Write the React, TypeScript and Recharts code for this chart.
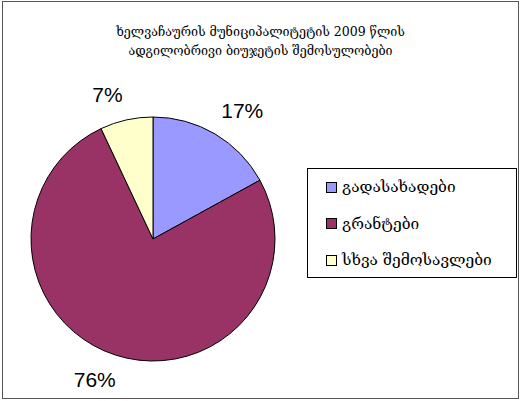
import { PieChart, Pie, Cell, Legend } from "recharts";

const categories = ["გადასახადები", "გრანტები", "სხვა შემოსავლები"];
const shares = [17, 76, 7];
const colors = ["#9999FF", "#993366", "#FFFFCC"];
const titleLines = [
  "ხელვაჩაურის მუნიციპალიტეტის 2009 წლის",
  "ადგილობრივი ბიუჯეტის შემოსულობები",
];

const data = categories.map((name, i) => ({ name, value: shares[i] }));

const RADIAN = Math.PI / 180;

function renderLabel(props: any) {
  const { cx, cy, midAngle, outerRadius, value } = props;
  const r = outerRadius + 18;
  const cos = Math.cos(-midAngle * RADIAN);
  const sin = Math.sin(-midAngle * RADIAN);
  // push the label box outward so its nearest corner sits on the ring
  const x = cx + r * cos + (cos >= 0 ? 18 : -15);
  const y = cy + r * sin + (sin >= 0 ? 7 : -8);
  return (
    <text
      x={x}
      y={y}
      textAnchor="middle"
      dominantBaseline="central"
      fontFamily="'Liberation Sans', Arial, sans-serif"
      fontSize={21}
      fill="#000"
    >
      {value}%
    </text>
  );
}

function LegendBox() {
  return (
    <div
      style={{
        width: 210,
        height: 110,
        border: "1px solid #000",
        background: "#fff",
        boxSizing: "border-box",
        paddingTop: 0,
      }}
    >
      {data.map((d, i) => (
        <div
          key={d.name}
          style={{
            display: "flex",
            alignItems: "center",
            height: 36.5,
            paddingLeft: 18,
            fontFamily: "'DejaVu Serif', serif",
            fontSize: 15.5,
            color: "#000",
          }}
        >
          <span
            style={{
              width: 9,
              height: 9,
              border: "1px solid #000",
              background: colors[i],
              marginRight: 5,
              display: "inline-block",
            }}
          />
          {d.name}
        </div>
      ))}
    </div>
  );
}

export default function App() {
  return (
    <div
      style={{
        position: "absolute",
        left: 0,
        top: 0,
        width: 521,
        height: 401,
        background: "#fff",
      }}
    >
      <div
        style={{
          position: "absolute",
          left: 2,
          top: 1,
          width: 517,
          height: 398,
          border: "1px solid #555",
          boxSizing: "border-box",
        }}
      />
      <div
        style={{
          position: "absolute",
          left: 0,
          top: 22,
          width: 521,
          textAlign: "center",
          fontFamily: "'DejaVu Serif', serif",
          fontSize: 12.5,
          lineHeight: "19px",
          color: "#000",
        }}
      >
        {titleLines.map((t) => (
          <div key={t}>{t}</div>
        ))}
      </div>
      <PieChart
        width={521}
        height={401}
        margin={{ top: 0, right: 0, bottom: 0, left: 0 }}
        style={{ position: "absolute", left: 0, top: 0 }}
      >
        <Pie
          data={data}
          dataKey="value"
          nameKey="name"
          cx={153}
          cy={239}
          outerRadius={122}
          startAngle={90}
          endAngle={-270}
          stroke="#000"
          strokeWidth={1}
          label={renderLabel}
          labelLine={false}
          isAnimationActive={false}
        >
          {data.map((d, i) => (
            <Cell key={d.name} fill={colors[i]} />
          ))}
        </Pie>
        <Legend
          content={<LegendBox />}
          wrapperStyle={{ left: 307, top: 168, width: 210, height: 110 }}
        />
      </PieChart>
    </div>
  );
}
